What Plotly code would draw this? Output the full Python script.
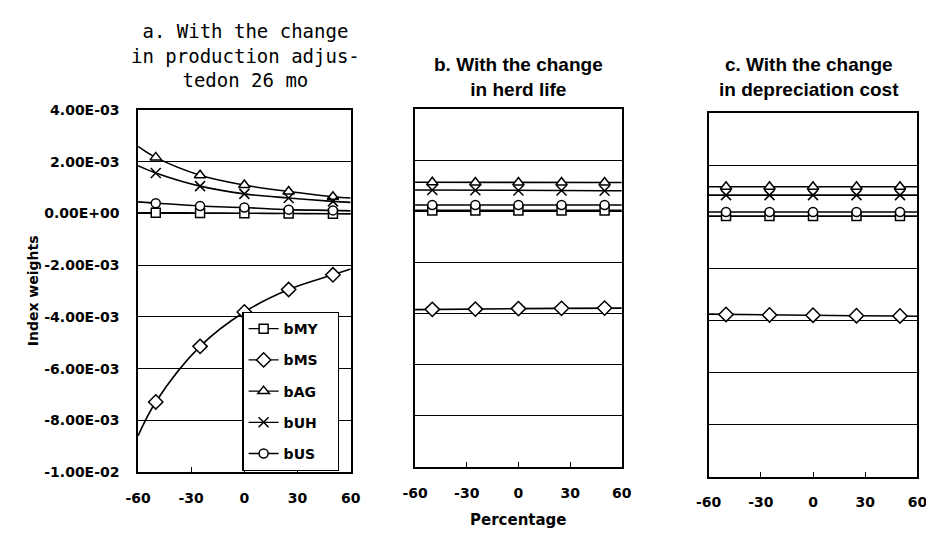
import plotly.graph_objects as go

# ---------------- data (index weights in units of 1e-3) ----------------
x_line = [-60, -50, -25, 0, 25, 50, 60]
x_mark = [-50, -25, 0, 25, 50]
x_ticks = [-60, -30, 0, 30, 60]
x_ticklabels = ["-60", "-30", "0", "30", "60"]
y_ticks = [4, 2, 0, -2, -4, -6, -8, -10]
y_ticklabels = ["4.00E-03", "2.00E-03", "0.00E+00", "-2.00E-03",
                "-4.00E-03", "-6.00E-03", "-8.00E-03", "-1.00E-02"]

series_names = ["bMY", "bMS", "bAG", "bUH", "bUS"]

# a. production adjusted on 26 mo
a_bMY = [0.03, 0.03, 0.02, 0.01, 0.00, -0.01, -0.02]
a_bMS = [-8.60, -7.29, -5.14, -3.81, -2.94, -2.37, -2.15]
a_bAG = [2.60, 2.17, 1.48, 1.10, 0.85, 0.65, 0.60]
a_bUH = [1.85, 1.57, 1.06, 0.76, 0.60, 0.47, 0.43]
a_bUS = [0.45, 0.40, 0.29, 0.23, 0.15, 0.12, 0.10]

# b. herd life
b_bMY = [0.04, 0.04, 0.04, 0.04, 0.04, 0.04, 0.04]
b_bMS = [-3.84, -3.83, -3.82, -3.80, -3.79, -3.78, -3.78]
b_bAG = [1.14, 1.14, 1.13, 1.13, 1.13, 1.13, 1.13]
b_bUH = [0.84, 0.84, 0.83, 0.82, 0.82, 0.81, 0.81]
b_bUS = [0.25, 0.25, 0.25, 0.25, 0.25, 0.25, 0.25]

# c. depreciation cost
c_bMY = [0.04, 0.04, 0.04, 0.04, 0.04, 0.04, 0.04]
c_bMS = [-3.74, -3.75, -3.77, -3.78, -3.80, -3.81, -3.82]
c_bAG = [1.16, 1.16, 1.16, 1.16, 1.16, 1.16, 1.16]
c_bUH = [0.84, 0.84, 0.84, 0.84, 0.84, 0.84, 0.84]
c_bUS = [0.19, 0.19, 0.19, 0.19, 0.19, 0.19, 0.19]

panel_titles = ["a. With the change<br>in production adjus-<br>tedon 26 mo",
                "b. With the change<br>in herd life",
                "c. With the change<br>in depreciation cost"]
y_title = "Index weights"
x_title = "Percentage"

panels = [
    {"vals": [a_bMY, a_bMS, a_bAG, a_bUH, a_bUS], "shape": "spline", "xa": "x", "ya": "y"},
    {"vals": [b_bMY, b_bMS, b_bAG, b_bUH, b_bUS], "shape": "linear", "xa": "x2", "ya": "y2"},
    {"vals": [c_bMY, c_bMS, c_bAG, c_bUH, c_bUS], "shape": "linear", "xa": "x3", "ya": "y3"},
]

# ---------------- styles ----------------
symbols = {"bMY": "square", "bMS": "diamond", "bAG": "triangle-up", "bUH": "x-thin", "bUS": "circle"}
sizes = {"bMY": 9, "bMS": 11, "bAG": 10, "bUH": 10, "bUS": 9}
W, H = 934, 537
OFF = 8  # page body margin


def px(x):
    return (x - OFF) / W


def py(y):
    return 1 - (y - OFF) / H


tick_font = dict(family="DejaVu Sans", size=14, color="black", weight="bold")


def marker_style(name):
    return dict(symbol=symbols[name], size=sizes[name], color="white",
                line=dict(color="black", width=1.5))


fig = go.Figure()

for p in panels:
    for name, vals in zip(series_names, p["vals"]):
        fig.add_trace(go.Scatter(x=x_line, y=vals, mode="lines",
                                 line=dict(color="black", width=1.6, shape=p["shape"]),
                                 xaxis=p["xa"], yaxis=p["ya"], showlegend=False,
                                 hoverinfo="skip"))
    for name, vals in zip(series_names, p["vals"]):
        fig.add_trace(go.Scatter(x=x_mark, y=vals[1:6], mode="markers",
                                 marker=marker_style(name),
                                 xaxis=p["xa"], yaxis=p["ya"], showlegend=False))

# legend entries
for name in series_names:
    fig.add_trace(go.Scatter(x=[None], y=[None], mode="lines+markers",
                             name=name + "\u00a0\u00a0\u00a0",
                             legendgroup=name,
                             line=dict(color="black", width=1.3),
                             marker=marker_style(name), xaxis="x", yaxis="y"))

# ---------------- axes ----------------
x_px = [(128, 346), (412, 624), (713, 927)]
y_px = [(105, 478), (104, 473), (108, 483)]

layout = dict(width=W, height=H, margin=dict(l=0, r=0, t=0, b=0),
              paper_bgcolor="white", plot_bgcolor="white",
              showlegend=True,
              legend=dict(x=px(235), y=py(313), xanchor="left", yanchor="top",
                          bgcolor="white", bordercolor="black", borderwidth=1.2,
                          font=dict(family="DejaVu Sans", size=14, color="black", weight="bold"),
                          tracegroupgap=10, itemwidth=30))

for i in range(3):
    suffix = "" if i == 0 else str(i + 1)
    layout["xaxis" + suffix] = dict(
        domain=[px(x_px[i][0]), px(x_px[i][1])], range=[-60, 60], anchor="y" + suffix,
        tickvals=x_ticks, ticktext=x_ticklabels, ticks="inside", ticklen=5,
        tickcolor="black", tickwidth=1.2, showline=True, mirror=True,
        linecolor="black", linewidth=1.5, showgrid=False, zeroline=False,
        tickfont=tick_font, ticklabelstandoff=12)
    layout["yaxis" + suffix] = dict(
        domain=[py(y_px[i][1]), py(y_px[i][0])], range=[-10, 4], anchor="x" + suffix,
        tickvals=y_ticks, ticktext=y_ticklabels, showticklabels=(i == 0),
        ticks="", showline=True, mirror=True, linecolor="black", linewidth=1.5,
        showgrid=True, gridcolor="black", gridwidth=1.1, zeroline=False,
        tickfont=tick_font, ticklabelstandoff=14)

fig.update_layout(**layout)

# ---------------- titles ----------------
fig.add_annotation(x=px(238), y=py(49), xref="paper", yref="paper",
                   text=panel_titles[0], showarrow=False, xanchor="center", yanchor="middle",
                   font=dict(family="DejaVu Sans Mono", size=19, color="black"))
fig.add_annotation(x=px(518), y=py(71), xref="paper", yref="paper",
                   text=panel_titles[1], showarrow=False, xanchor="center", yanchor="middle",
                   font=dict(family="Liberation Sans", size=19, color="black", weight="bold"))
fig.add_annotation(x=px(816), y=py(71), xref="paper", yref="paper",
                   text=panel_titles[2], showarrow=False, xanchor="center", yanchor="middle",
                   font=dict(family="Liberation Sans", size=19, color="black", weight="bold"))
fig.add_annotation(x=px(20), y=py(291), xref="paper", yref="paper",
                   text=y_title, showarrow=False, textangle=-90,
                   xanchor="center", yanchor="middle",
                   font=dict(family="DejaVu Sans", size=14, color="black", weight="bold"))
fig.add_annotation(x=px(518), y=py(527), xref="paper", yref="paper",
                   text=x_title, showarrow=False, xanchor="center", yanchor="middle",
                   font=dict(family="DejaVu Sans", size=15, color="black", weight="bold"))

fig.write_html("out.html")
